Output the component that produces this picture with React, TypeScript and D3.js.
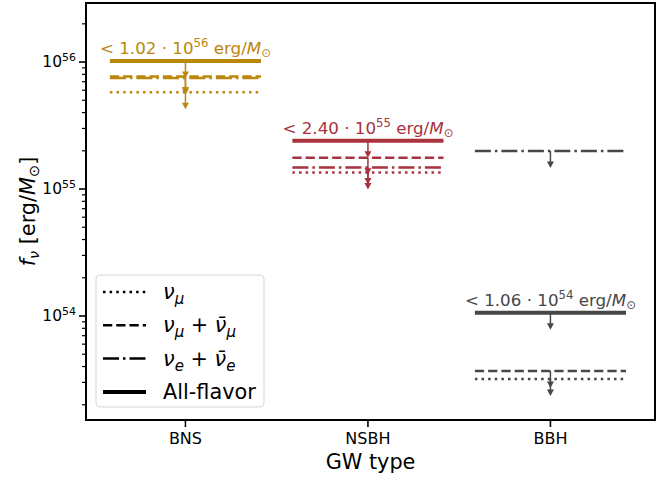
import React from "react";
import * as d3 from "d3";

const categories = ["BNS", "NSBH", "BBH"];
const colors = ["#bb870d", "#a8323d", "#474747"];
const allFlavor = [1.02e56, 2.4e55, 1.06e54];
const numuPair = [7.7e55, 1.76e55, 3.69e53]; // dashed
const nuePair = [7.5e55, 1.48e55, 1.99e55]; // dash-dot
const numu = [5.77e55, 1.35e55, 3.19e53]; // dotted
const yMajorExps = [54, 55, 56];

const W = 661, H = 479;
const L = 86, R = 655, T = 3, B = 420;
const FONT = "DejaVu Sans, sans-serif";

const x = d3.scaleLinear().domain([-0.545, 2.573]).range([L, R]);
const y = d3.scaleLog().domain([10 ** 53.181, 10 ** 56.465]).range([B, T]);
const HALF = 0.414;

const LW = 2.5;
const dashes: Record<string, string | undefined> = {
  dotted: `${LW} ${1.65 * LW}`,
  dashed: `${3.7 * LW} ${1.6 * LW}`,
  dashdot: `${6.4 * LW} ${1.6 * LW} ${LW} ${1.6 * LW}`,
  solid: undefined,
};

const series = [
  { key: "dotted", values: numu, width: LW },
  { key: "dashed", values: numuPair, width: LW },
  { key: "dashdot", values: nuePair, width: LW },
  { key: "solid", values: allFlavor, width: 4 },
];

function Arrow({ cx, y0, color }: { cx: number; y0: number; color: string }) {
  const len = 17;
  const hl = 6.5, hw = 3.5;
  return (
    <g>
      <line x1={cx} x2={cx} y1={y0} y2={y0 + len - hl + 0.5} stroke={color} strokeWidth={1.5} />
      <path d={`M${cx - hw},${y0 + len - hl} L${cx + hw},${y0 + len - hl} L${cx},${y0 + len} Z`} fill={color} />
    </g>
  );
}

function fmt(v: number) {
  const e = Math.floor(Math.log10(v));
  const m = v / 10 ** e;
  return { m: m.toFixed(2), e };
}

export default function App() {
  const minor: number[] = [];
  for (let e = 53; e <= 56; e++) {
    for (let k = 2; k <= 9; k++) {
      const v = k * 10 ** e;
      if (v >= y.domain()[0] && v <= y.domain()[1]) minor.push(v);
    }
  }
  const legendItems = [
    { key: "dotted", label: "mu" },
    { key: "dashed", label: "mumu" },
    { key: "dashdot", label: "ee" },
    { key: "solid", label: "all" },
  ];
  const LF = 20.8, LS = 15;
  const renderLabel = (lab: string) => {
    if (lab === "all") return <tspan>All-flavor</tspan>;
    if (lab === "mu")
      return (
        <>
          <tspan fontStyle="italic">ν</tspan>
          <tspan fontStyle="italic" fontSize={LS} dy={5}>μ</tspan>
        </>
      );
    const s = lab === "mumu" ? "μ" : "e";
    return (
      <>
        <tspan fontStyle="italic">ν</tspan>
        <tspan fontStyle="italic" fontSize={LS} dy={5}>{s}</tspan>
        <tspan dy={-5}>{" + "}</tspan>
        <tspan fontStyle="italic">{"ν\u0304"}</tspan>
        <tspan fontStyle="italic" fontSize={LS} dy={5}>{s}</tspan>
      </>
    );
  };
  return (
    <svg width={W} height={H} style={{ position: "absolute", left: 0, top: 0, background: "#fff" }} fontFamily={FONT}>
      <rect x={0} y={0} width={W} height={H} fill="#fff" />
      {categories.map((c, i) => (
        <g key={c}>
          {series.map((s) => {
            const yy = y(s.values[i]);
            return (
              <g key={s.key}>
                <line
                  x1={x(i - HALF)}
                  x2={x(i + HALF)}
                  y1={yy}
                  y2={yy}
                  stroke={colors[i]}
                  strokeWidth={s.width}
                  strokeDasharray={dashes[s.key]}
                />
                <Arrow cx={x(i)} y0={yy} color={colors[i]} />
              </g>
            );
          })}
          {(() => {
            const f = fmt(allFlavor[i]);
            return (
              <text x={x(i)} y={y(allFlavor[i]) - 6.5} textAnchor="middle" fontSize={16.7} fill={colors[i]}>
                <tspan>{`< ${f.m} · 10`}</tspan>
                <tspan fontSize={11.7} dy={-7}>{f.e}</tspan>
                <tspan dy={7}>{" erg/"}</tspan>
                <tspan fontStyle="italic">M</tspan>
                <tspan fontSize={11.7} dy={3}>⊙</tspan>
              </text>
            );
          })()}
        </g>
      ))}
      <rect x={L} y={T} width={R - L} height={B - T} fill="none" stroke="#000" strokeWidth={2} />
      {minor.map((v) => (
        <line key={v} x1={L - 4} x2={L} y1={y(v)} y2={y(v)} stroke="#000" strokeWidth={1.2} />
      ))}
      {yMajorExps.map((e) => (
        <g key={e}>
          <line x1={L - 7} x2={L} y1={y(10 ** e)} y2={y(10 ** e)} stroke="#000" strokeWidth={1.6} />
          <text x={L - 10} y={y(10 ** e) + 5} textAnchor="end" fontSize={15.5} fill="#000">
            <tspan>10</tspan>
            <tspan fontSize={11} dy={-6.5}>{e}</tspan>
          </text>
        </g>
      ))}
      {categories.map((c, i) => (
        <g key={c}>
          <line x1={x(i)} x2={x(i)} y1={B} y2={B + 7} stroke="#000" strokeWidth={1.6} />
          <text x={x(i)} y={B + 24} textAnchor="middle" fontSize={16} fill="#000">{c}</text>
        </g>
      ))}
      <text x={(L + R) / 2} y={469} textAnchor="middle" fontSize={20.8} fill="#000">GW type</text>
      <text transform={`translate(35,${(T + B) / 2}) rotate(-90)`} textAnchor="middle" fontSize={20.8} fill="#000">
        <tspan fontStyle="italic">f</tspan>
        <tspan fontStyle="italic" fontSize={14.5} dy={4}>ν</tspan>
        <tspan dy={-4}>{" [erg/"}</tspan>
        <tspan fontStyle="italic">M</tspan>
        <tspan fontSize={14.5} dy={4}>⊙</tspan>
        <tspan dy={-4}>]</tspan>
      </text>
      <rect x={96} y={275} width={168} height={132} rx={4} fill="#fff" fillOpacity={0.8} stroke="#d6d6d6" strokeWidth={1} />
      {legendItems.map((it, k) => {
        const s = series.find((q) => q.key === it.key)!;
        const yy = 292 + k * 33.3;
        return (
          <g key={it.key}>
            <line x1={103} x2={146} y1={yy} y2={yy} stroke="#000" strokeWidth={s.width} strokeDasharray={dashes[it.key]} />
            <text x={163} y={yy + 7} fontSize={LF} fill="#000">{renderLabel(it.label)}</text>
          </g>
        );
      })}
    </svg>
  );
}
